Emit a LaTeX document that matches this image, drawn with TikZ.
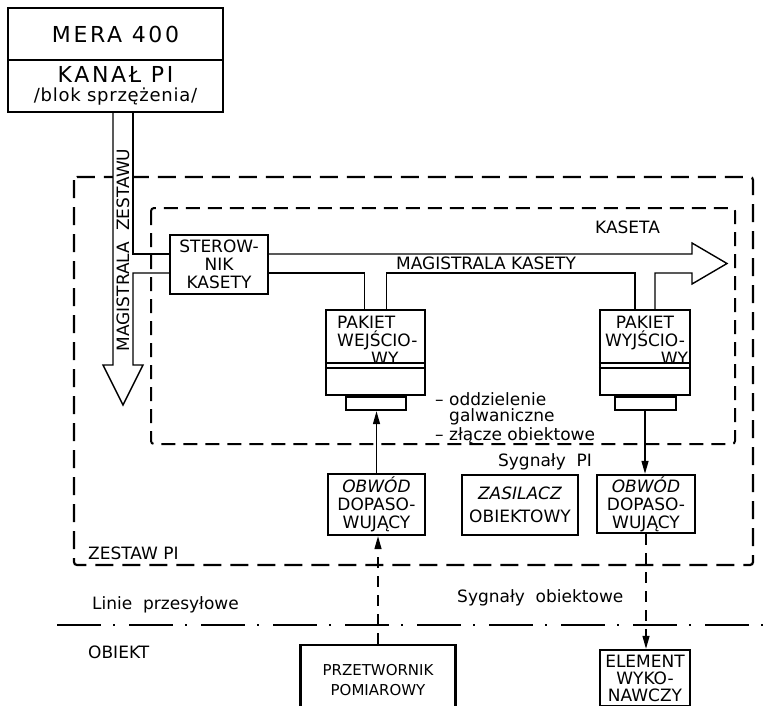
\documentclass[tikz,border=0pt]{standalone}
\usepackage{fontspec}
\setmainfont{DejaVu Sans}
\usetikzlibrary{arrows.meta,positioning}

\begin{document}
\begin{tikzpicture}[x=1pt,y=-1pt,
  caja/.style={draw,line width=2.4pt,inner sep=0pt,align=center,font=\fontsize{17}{18}\selectfont},
  linea/.style={line width=1.4pt},
  flecha/.style={line width=1.4pt,-{Triangle[length=13pt,width=7pt]}},
  trazos/.style={line width=1.4pt,dash pattern=on 11pt off 8pt,-{Triangle[length=13pt,width=7pt]}},
  texto/.style={inner sep=0pt,font=\fontsize{17}{18}\selectfont}]
\useasboundingbox (0,0) rectangle (775,705);
\clip (0,0) rectangle (775,705);

% Zestaw PI y kaseta
\draw [line width=2.2pt, dash pattern=on 18pt off 9pt, rounded corners=3pt] (74,177) rectangle (753,565);
\draw [line width=2pt, dash pattern=on 14pt off 8pt, rounded corners=3pt] (151,208) rectangle (735,444);

% MERA 400
\node [caja, minimum width=215pt, minimum height=52pt, font=\fontsize{22}{24}\selectfont\addfontfeature{LetterSpace=12}] (mera) at (115.5,34) {MERA 400};
\node [caja, minimum width=215pt, minimum height=52pt] (kanal) at (115.5,86) {\fontsize{22}{24}\selectfont\addfontfeature{LetterSpace=12}KANAŁ PI\\[1pt]\fontsize{18}{20}\selectfont\addfontfeature{LetterSpace=4}/blok sprzężenia/};

% Bloques
\node [caja, minimum width=98pt, minimum height=59pt] (ster) at (219,264.5) {STEROW-\\NIK\\KASETY};
\node [caja, minimum width=99pt, minimum height=85pt] (wej) at (375.5,352.5) {};
\node [caja, minimum width=90pt, minimum height=85pt] (wyj) at (645,352.5) {};
\node [caja, line width=2pt, minimum width=60pt, minimum height=13pt, below=0pt of wej] (wejZ) {};
\node [caja, line width=2pt, minimum width=61pt, minimum height=13pt, below=0pt of wyj] (wyjZ) {};
\node [texto, anchor=north west, align=left] (wejT) at (337,316) {PAKIET\\WEJŚCIO-\\\hspace*{34pt}WY};
\node [texto, anchor=north, text width=86pt, align=center] (wyjT) at (645,316) {PAKIET\\WYJŚCIO-\\\hfill WY};
\draw [linea] ([yshift=-54pt]wej.north west) -- ([yshift=-54pt]wej.north east);
\draw [linea] ([yshift=-59pt]wej.north west) -- ([yshift=-59pt]wej.north east);
\draw [linea] ([yshift=-54pt]wyj.north west) -- ([yshift=-54pt]wyj.north east);
\draw [linea] ([yshift=-59pt]wyj.north west) -- ([yshift=-59pt]wyj.north east);

\node [caja, minimum width=97pt, minimum height=61pt] (obwL) at (376.5,504.5) {\textit{OBWÓD}\\DOPASO-\\WUJĄCY};
\node [caja, minimum width=116pt, minimum height=60pt] (zasil) at (520,505) {\textit{ZASILACZ}\\[5pt]OBIEKTOWY};
\node [caja, minimum width=98pt, minimum height=58pt] (obwR) at (646,504) {\textit{OBWÓD}\\DOPASO-\\WUJĄCY};
\node [caja, minimum width=155pt, minimum height=70pt, font=\fontsize{15}{20}\selectfont] (przet) at (378,680) {PRZETWORNIK\\POMIAROWY};
\node [caja, minimum width=90pt, minimum height=56pt, font=\fontsize{17}{17}\selectfont] (elem) at (645,678) {ELEMENT\\WYKO-\\NAWCZY};

% Magistrala zestawu
\coordinate (zL) at (113,0);
\coordinate (zR) at (133,0);
\coordinate (bT) at (0,254);
\coordinate (bB) at (0,273);
\fill [white] (zL |- kanal.south) -- (113,365) -- (103,365) -- (123,405) -- (143,365) -- (133,365) -- (zR |- kanal.south) -- cycle;
\draw [linea] (zL |- kanal.south) -- (113,365) -- (103,365) -- (123,405) -- (143,365) -- (133,365) -- (133,273) -- (ster.west |- bB);
\draw [linea] (zR |- kanal.south) -- (zR |- bT) -- (ster.west |- bT);
\node [texto, rotate=90] (magz) at (123,250) {MAGISTRALA\ \ ZESTAWU};

% Magistrala kasety
\coordinate (wejL) at ([xshift=-11pt]wej.north);
\coordinate (wejR) at ([xshift=11pt]wej.north);
\coordinate (wyjL) at ([xshift=-10pt]wyj.north);
\coordinate (wyjR) at ([xshift=10pt]wyj.north);
\coordinate (punta) at (727,263.5);
\draw [linea] (ster.east |- bT) -- (692,254) -- (692,243) -- (punta) -- (692,284) -- (692,273) -- (wyjR |- bB) -- (wyjR);
\draw [linea] (wyjL) -- (wyjL |- bB) -- (wejR |- bB) -- (wejR);
\draw [linea] (wejL) -- (wejL |- bB) -- (ster.east |- bB);
\node [texto] (magk) at (486,263) {MAGISTRALA KASETY};

% Flechas
\draw [flecha] (obwL.north) -- (obwL.north |- wejZ.south);
\draw [flecha] (wyjZ.south) -- (wyjZ.south |- obwR.north);
\draw [trazos] (przet.north) -- (przet.north |- obwL.south);
\draw [trazos] (obwR.south) -- (obwR.south |- elem.north);

% Linea del objeto
\draw [line width=1.4pt, dash pattern=on 44pt off 12pt on 2pt off 14pt] (57,625) -- (775,625);

% Etiquetas
\node [texto, anchor=west] (kaseta) at (595,227) {KASETA};
\node [texto, anchor=north west, align=left, font=\fontsize{17}{16}\selectfont] (nota) at (435,392) {– oddzielenie\\\hspace*{14pt}galwaniczne\\[2pt]– złącze obiektowe};
\node [texto] (sygPI) at (545,462) {Sygnały\ \ PI};
\node [texto, anchor=west] (zestaw) at (88,553) {ZESTAW PI};
\node [texto, anchor=west] (linie) at (92,605) {Linie\ \ przesyłowe};
\node [texto, anchor=west] (sygob) at (457,598) {Sygnały\ \ obiektowe};
\node [texto, anchor=west] (obiekt) at (88,652) {OBIEKT};
\end{tikzpicture}
\end{document}
